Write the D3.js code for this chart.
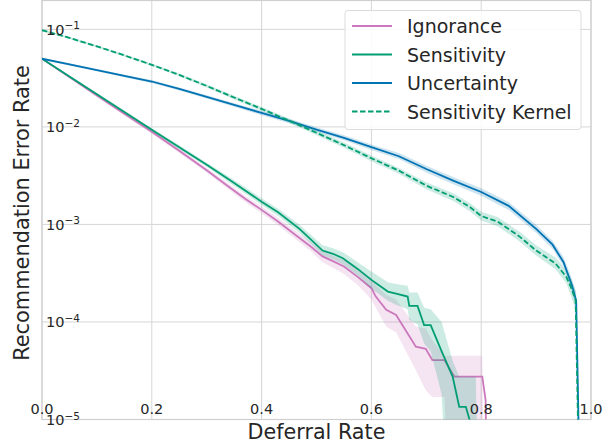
<!DOCTYPE html>
<html>
<head>
<meta charset="utf-8">
<script src="https://cdn.jsdelivr.net/npm/d3@7"></script>
<style>
  body { margin: 0; background: #fff; }
  text { font-family: "DejaVu Sans", sans-serif; fill: #262626; }
</style>
</head>
<body>
<div id="chart"></div>
<script>
// Deferral rate vs recommendation error (log scale), mean with band

const xTicks = [0, 0.2, 0.4, 0.6, 0.8, 1.0];
const yTickExps = [-1, -2, -3, -4, -5];

// Ignorance
const ignX = [0, 0.05, 0.1, 0.15, 0.2, 0.25, 0.3, 0.342, 0.37, 0.4, 0.43, 0.463, 0.49, 0.511, 0.53, 0.55, 0.575, 0.6, 0.608, 0.627, 0.645, 0.681, 0.699, 0.711, 0.733, 0.751, 0.802, 0.808, 0.813];
const ignMean = [0.050, 0.0325, 0.0210, 0.0136, 0.0089, 0.00568, 0.00359, 0.00239, 0.00183, 0.00141, 0.00107, 0.00077, 0.00059, 0.00047, 0.00042, 0.00037, 0.00029, 0.000222, 0.000182, 0.000133, 0.000118, 0.0000558, 0.000053, 0.0000407, 0.0000407, 0.0000275, 0.0000275, 0.0000158, 0];
const ignLo = [0.049, 0.0316, 0.0203, 0.0130, 0.0085, 0.0054, 0.0034, 0.00224, 0.0017, 0.0013, 0.00098, 0.00070, 0.00053, 0.00041, 0.00036, 0.00031, 0.00024, 0.00017, 0.00014, 0.000090, 0.000078, 0.000032, 0.000020, 0.000017, 0.000017, 0, 0, 0, 0];
const ignHi = [0.051, 0.0334, 0.0217, 0.0142, 0.0093, 0.0060, 0.0038, 0.00256, 0.00197, 0.00153, 0.00117, 0.00085, 0.00066, 0.00053, 0.00048, 0.00043, 0.00035, 0.00028, 0.00024, 0.00019, 0.00017, 0.000090, 0.000085, 0.000065, 0.000045, 0.000045, 0.000045, 0, 0];

// Sensitivity
const senX = [0, 0.05, 0.1, 0.15, 0.2, 0.25, 0.3, 0.342, 0.37, 0.4, 0.43, 0.469, 0.49, 0.511, 0.53, 0.548, 0.575, 0.6, 0.63, 0.645, 0.666, 0.669, 0.684, 0.696, 0.708, 0.728, 0.748, 0.76, 0.772, 0.79, 0.8];
const senMean = [0.050, 0.0328, 0.0216, 0.0142, 0.00935, 0.0062, 0.00409, 0.00285, 0.00223, 0.00171, 0.00133, 0.00090, 0.00070, 0.00054, 0.00050, 0.00045, 0.00035, 0.00027, 0.000205, 0.000195, 0.000182, 0.000146, 0.000146, 0.000093, 0.000093, 0.000050, 0.0000275, 0.0000135, 0.0000135, 0.000006, 0];
const senLo = [0.049, 0.0320, 0.0210, 0.0137, 0.0090, 0.0059, 0.0039, 0.00266, 0.00207, 0.00158, 0.00122, 0.00082, 0.00063, 0.00048, 0.00044, 0.00039, 0.00030, 0.00022, 0.000165, 0.000150, 0.000135, 0.000105, 0.000095, 0.000060, 0.000050, 0.000018, 0, 0, 0, 0, 0];
const senHi = [0.051, 0.0336, 0.0222, 0.0147, 0.0097, 0.0065, 0.0043, 0.00305, 0.0024, 0.00185, 0.00145, 0.00099, 0.00078, 0.00061, 0.00057, 0.00052, 0.00041, 0.00033, 0.000255, 0.000245, 0.000235, 0.000200, 0.000200, 0.000140, 0.000135, 0.000100, 0.000040, 0.0000275, 0.0000275, 0.0000275, 0];

// Uncertainty
const uncX = [0, 0.05, 0.1, 0.15, 0.2, 0.25, 0.3, 0.35, 0.4, 0.45, 0.5, 0.55, 0.6, 0.65, 0.7, 0.75, 0.8, 0.85, 0.9, 0.93, 0.95, 0.965, 0.973, 0.984];
const uncMean = [0.050, 0.0437, 0.0382, 0.0333, 0.0292, 0.0245, 0.0203, 0.0168, 0.0139, 0.0115, 0.0094, 0.0077, 0.0062, 0.0050, 0.0037, 0.0028, 0.00215, 0.00155, 0.00090, 0.00062, 0.00041, 0.00024, 0.000165, 0];
const uncLo = [0.0490, 0.0426, 0.0371, 0.0323, 0.0282, 0.0236, 0.0195, 0.0161, 0.0132, 0.0109, 0.0089, 0.0073, 0.0058, 0.0047, 0.0034, 0.00257, 0.00197, 0.00141, 0.00082, 0.00056, 0.00037, 0.00021, 0.00014, 0];
const uncHi = [0.0510, 0.0448, 0.0393, 0.0343, 0.0302, 0.0254, 0.0211, 0.0175, 0.0146, 0.0121, 0.0099, 0.0082, 0.0066, 0.0054, 0.0040, 0.00305, 0.00235, 0.00170, 0.00099, 0.00068, 0.00046, 0.00028, 0.00020, 0];

// Sensitivity Kernel
const kerX = [0, 0.05, 0.1, 0.15, 0.2, 0.25, 0.3, 0.35, 0.4, 0.45, 0.5, 0.55, 0.6, 0.65, 0.7, 0.75, 0.78, 0.8, 0.83, 0.87, 0.9, 0.935, 0.955, 0.963, 0.972, 0.983];
const kerMean = [0.098, 0.0818, 0.0669, 0.0541, 0.0433, 0.0341, 0.0263, 0.0200, 0.0153, 0.0116, 0.0087, 0.0065, 0.00477, 0.00356, 0.0025, 0.0019, 0.0015, 0.00122, 0.00107, 0.00075, 0.00054, 0.0004, 0.00029, 0.00023, 0.000168, 0];
const kerLo = [0.096, 0.0798, 0.0652, 0.0526, 0.0420, 0.0330, 0.0253, 0.0191, 0.0146, 0.0110, 0.0082, 0.0061, 0.00445, 0.0033, 0.0023, 0.00173, 0.00136, 0.00110, 0.00096, 0.00067, 0.00048, 0.00035, 0.00025, 0.00019, 0.00013, 0];
const kerHi = [0.100, 0.0838, 0.0686, 0.0556, 0.0446, 0.0352, 0.0273, 0.0209, 0.0160, 0.0122, 0.0092, 0.0069, 0.0051, 0.0038, 0.0027, 0.00208, 0.00165, 0.00135, 0.00119, 0.00084, 0.00061, 0.00046, 0.00034, 0.00028, 0.00021, 0];

const seriesNames = ['Ignorance', 'Sensitivity', 'Uncertainty', 'Sensitivity Kernel'];
const seriesColors = ['#cc78bc', '#029e73', '#0173b2', '#029e73'];

function zip(xs, m, lo, hi) {
    return xs.map((x, i) => ({ x: x, m: m[i], lo: lo[i], hi: hi[i] }));
}

const series = [
    { name: seriesNames[0], color: seriesColors[0], dash: null, data: zip(ignX, ignMean, ignLo, ignHi) },
    { name: seriesNames[1], color: seriesColors[1], dash: null, data: zip(senX, senMean, senLo, senHi) },
    { name: seriesNames[2], color: seriesColors[2], dash: null, data: zip(uncX, uncMean, uncLo, uncHi) },
    { name: seriesNames[3], color: seriesColors[3], dash: '5.5,2.5', data: zip(kerX, kerMean, kerLo, kerHi) }
];

const width = 614, height = 444;
const margin = { top: 0, right: 23, bottom: 24.5, left: 42 };
const floorVal = 1e-7; // zeros drop off the log axis

const svg = d3.select('#chart').append('svg')
    .attr('width', width)
    .attr('height', height);

const x = d3.scaleLinear()
    .domain([0, 1])
    .range([margin.left, width - margin.right]);

const y = d3.scaleLog()
    .domain([1e-5, 0.2])
    .range([height - margin.bottom, margin.top]);

const yv = v => y(Math.max(v, floorVal));

// Grid
svg.append('g')
    .selectAll('line')
    .data(xTicks)
    .enter()
    .append('line')
    .attr('x1', d => x(d)).attr('x2', d => x(d))
    .attr('y1', y.range()[0]).attr('y2', y.range()[1])
    .attr('stroke', '#d6d6d6')
    .attr('stroke-width', 1);

svg.append('g')
    .selectAll('line')
    .data(yTickExps)
    .enter()
    .append('line')
    .attr('x1', x.range()[0]).attr('x2', x.range()[1])
    .attr('y1', d => y(Math.pow(10, d))).attr('y2', d => y(Math.pow(10, d)))
    .attr('stroke', '#d6d6d6')
    .attr('stroke-width', 1);

// Frame
svg.append('rect')
    .attr('x', x.range()[0])
    .attr('y', y.range()[1] + 0.5)
    .attr('width', x.range()[1] - x.range()[0])
    .attr('height', y.range()[0] - y.range()[1] - 0.5)
    .attr('fill', 'none')
    .attr('stroke', '#cfcfcf')
    .attr('stroke-width', 1.2);

svg.append('clipPath')
    .attr('id', 'plot-clip')
    .append('rect')
    .attr('x', x.range()[0])
    .attr('y', y.range()[1])
    .attr('width', x.range()[1] - x.range()[0])
    .attr('height', y.range()[0] - y.range()[1]);

const plot = svg.append('g').attr('clip-path', 'url(#plot-clip)');

const area = d3.area()
    .x(d => x(d.x))
    .y0(d => yv(d.lo))
    .y1(d => yv(d.hi));

const line = d3.line()
    .x(d => x(d.x))
    .y(d => yv(d.m));

series.forEach(s => {
    plot.append('path')
        .datum(s.data)
        .attr('fill', s.color)
        .attr('fill-opacity', 0.2)
        .attr('d', area);
    plot.append('path')
        .datum(s.data)
        .attr('fill', 'none')
        .attr('stroke', s.color)
        .attr('stroke-width', 1.8)
        .attr('stroke-dasharray', s.dash)
        .attr('d', line);
});

// Tick labels (drawn inside the axes)
svg.append('g')
    .selectAll('text')
    .data(xTicks)
    .enter()
    .append('text')
    .attr('x', d => x(d))
    .attr('y', 414)
    .attr('text-anchor', 'middle')
    .attr('font-size', '14.5px')
    .text(d => d.toFixed(1));

const yLabels = svg.append('g')
    .selectAll('text')
    .data(yTickExps)
    .enter()
    .append('text')
    .attr('x', 46)
    .attr('y', d => y(Math.pow(10, d)) + 5.5)
    .attr('font-size', '14.5px');
yLabels.append('tspan').text('10');
yLabels.append('tspan')
    .attr('dy', -5.5)
    .attr('font-size', '10.5px')
    .text(d => '\u2212' + Math.abs(d));

// Axis titles
svg.append('text')
    .attr('x', (x.range()[0] + x.range()[1]) / 2)
    .attr('y', 439)
    .attr('text-anchor', 'middle')
    .attr('font-size', '20.7px')
    .text('Deferral Rate');

svg.append('text')
    .attr('transform', `translate(29,213) rotate(-90)`)
    .attr('text-anchor', 'middle')
    .attr('font-size', '20.9px')
    .text('Recommendation Error Rate');

// Legend
const legend = svg.append('g').attr('transform', 'translate(345,10.5)');
legend.append('rect')
    .attr('width', 236)
    .attr('height', 119)
    .attr('rx', 3)
    .attr('fill', '#fff')
    .attr('fill-opacity', 0.85)
    .attr('stroke', '#dcdcdc');

series.forEach((s, i) => {
    const row = legend.append('g').attr('transform', `translate(0,${15.5 + i * 28.5})`);
    row.append('line')
        .attr('x1', 7).attr('x2', 47)
        .attr('stroke', s.color)
        .attr('stroke-width', 1.8)
        .attr('stroke-dasharray', s.dash);
    row.append('text')
        .attr('x', 62)
        .attr('y', 7)
        .attr('font-size', '19px')
        .text(s.name);
});
</script>
</body>
</html>
